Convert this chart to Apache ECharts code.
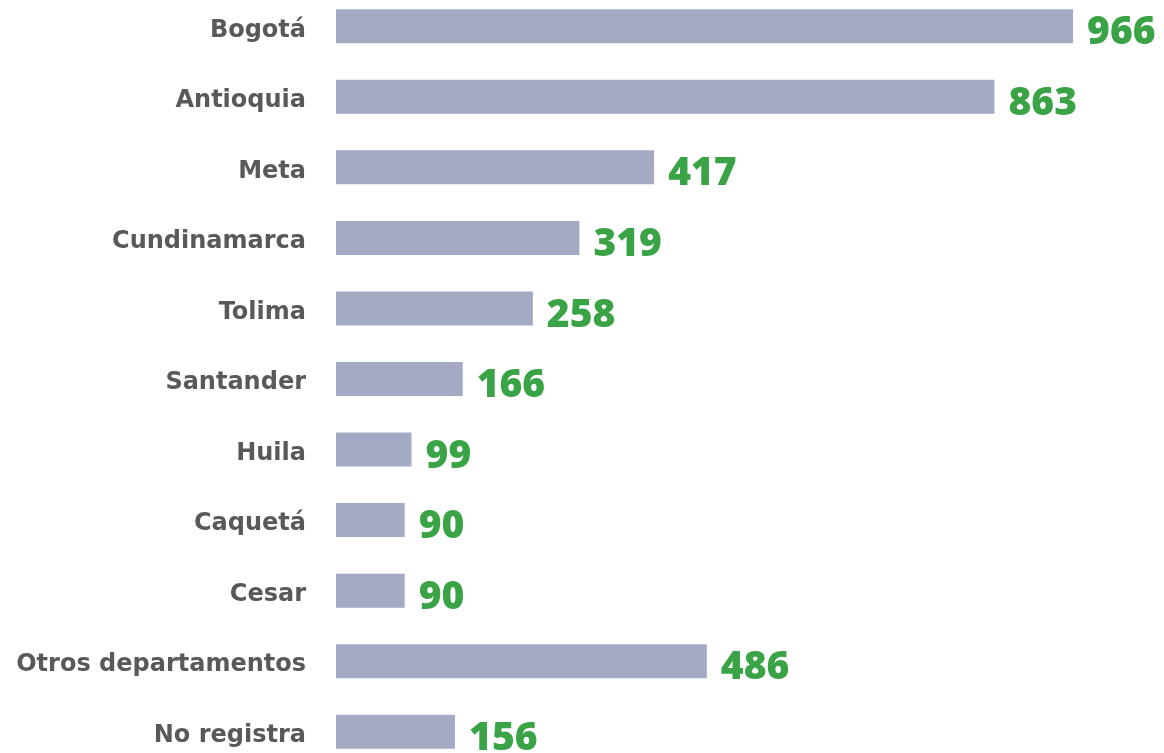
<!DOCTYPE html>
<html>
<head>
<meta charset="utf-8">
<script src="https://cdn.jsdelivr.net/npm/echarts@6/dist/echarts.min.js"></script>
<style>
  html, body { margin: 0; padding: 0; background: #fff; overflow: hidden; }
  #divChart { width: 1164px; height: 776px; margin-top: -9px; }
</style>
</head>
<body>
<div id="divChart"></div>
<script>
// datos por departamento (de arriba hacia abajo)
var arrDeptos = ['Bogotá', 'Antioquia', 'Meta', 'Cundinamarca', 'Tolima', 'Santander',
    'Huila', 'Caquetá', 'Cesar', 'Otros departamentos', 'No registra'];
var arrCasos = [966, 863, 417, 319, 258, 166, 99, 90, 90, 486, 156];

var chartBar = echarts.init(document.getElementById('divChart'));

var optBar = {
    animation: false,
    grid: {
        left: 336,
        right: 65,
        top: 0,
        bottom: 0,
        containLabel: false
    },
    xAxis: {
        type: 'value',
        min: 0,
        max: 1000,
        show: false
    },
    yAxis: {
        type: 'category',
        data: arrDeptos,
        inverse: true,
        axisLine: { show: false },
        axisTick: { show: false },
        splitLine: { show: false },
        axisLabel: {
            margin: 30,
            formatter: '{dep|{value}}',
            rich: {
                dep: {
                    padding: [8, 0, 0, 0],
                    fontFamily: 'DejaVu Sans',
                    fontWeight: 'bold',
                    fontSize: 24,
                    color: '#58595b'
                }
            }
        }
    },
    series: [{
        type: 'bar',
        data: arrCasos,
        barWidth: 34,
        itemStyle: { color: '#a4a9c4' },
        label: {
            show: true,
            position: 'right',
            distance: 14,
            offset: [0, 7],
            fontFamily: 'Open Sans',
            fontWeight: 800,
            fontSize: 39,
            color: '#3aa346'
        }
    }]
};
chartBar.setOption(optBar);
</script>
</body>
</html>
